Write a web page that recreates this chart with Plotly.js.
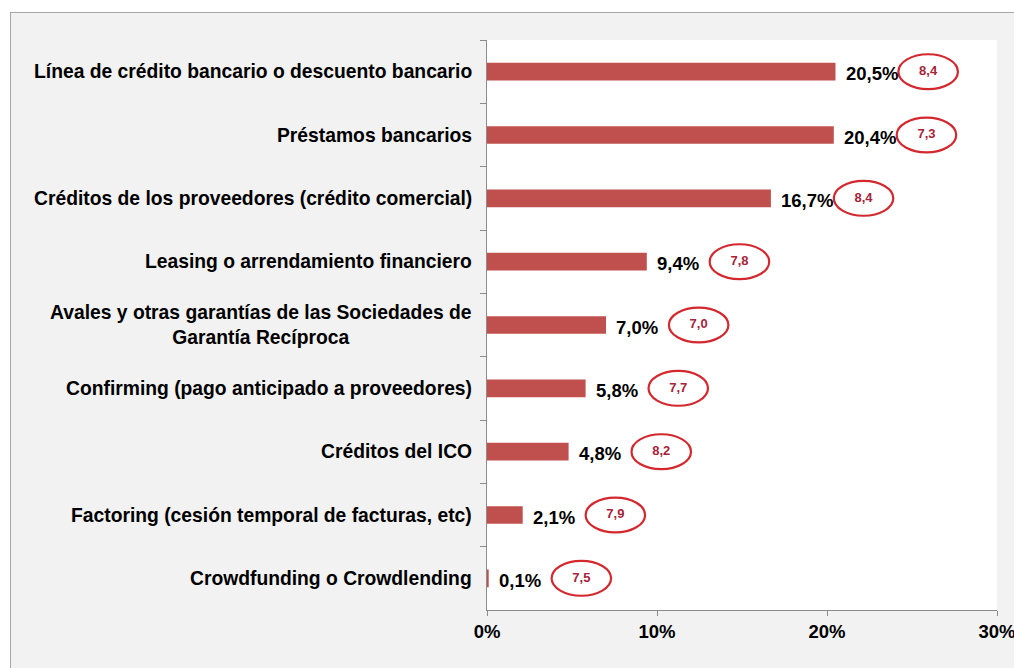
<!DOCTYPE html>
<html>
<head>
<meta charset="utf-8">
<script src="https://cdn.plot.ly/plotly-3.0.1.min.js"></script>
<style>
  html, body { margin: 0; padding: 0; background: #ffffff; overflow: hidden; width: 1014px; height: 668px; }
  #frame { position: absolute; left: 10px; top: 12px; width: 1050px; height: 656px;
           border-left: 1px solid #a6a6a6; border-top: 1px solid #a6a6a6; background: #f2f2f2; }
  #chart { width: 1049px; height: 655px; }
</style>
</head>
<body>
<div id="frame"><div id="chart"></div></div>
<script>
const categories = [
  "Línea de crédito bancario o descuento bancario",
  "Préstamos bancarios",
  "Créditos de los proveedores (crédito comercial)",
  "Leasing o arrendamiento financiero",
  "Avales y otras garantías de las Sociedades de<br>Garantía Recíproca",
  "Confirming (pago anticipado a proveedores)",
  "Créditos del ICO",
  "Factoring (cesión temporal de facturas, etc)",
  "Crowdfunding o Crowdlending"
];
const shares = [20.5, 20.4, 16.7, 9.4, 7.0, 5.8, 4.8, 2.1, 0.1];
const scores = [8.4, 7.3, 8.4, 7.8, 7.0, 7.7, 8.2, 7.9, 7.5];
const xTicks = [0, 10, 20, 30];

const fmt = v => v.toFixed(1).replace('.', ',');
const FONT = '"Liberation Sans", Arial, sans-serif';
const ELLIPSE_OFFSET = 5.45;  // % units to the right of the bar end
const ELLIPSE_W = 3.5;        // % units
const ELLIPSE_H = 0.55;       // category units

const barTrace = {
  type: 'bar', orientation: 'h',
  x: shares, y: categories,
  width: 0.28,
  marker: { color: '#c0504d' },
  hoverinfo: 'none', showlegend: false
};

const scoreTrace = {
  type: 'scatter', mode: 'text',
  x: shares.map(v => v + ELLIPSE_OFFSET), y: categories,
  text: scores.map(fmt),
  textposition: 'middle center',
  textfont: { family: FONT, size: 13, weight: 700, color: '#a6233a' },
  hoverinfo: 'none', showlegend: false, cliponaxis: false
};

const annotations = [];
categories.forEach((c, i) => {
  annotations.push({
    xref: 'paper', yref: 'y', x: 0, y: c, xanchor: 'right', yanchor: 'middle',
    xshift: -13, text: c, align: 'center', showarrow: false,
    font: { family: FONT, size: 19.3, weight: 700, color: '#000000' }
  });
  annotations.push({
    xref: 'x', yref: 'y', x: shares[i], y: c, xanchor: 'left', yanchor: 'middle',
    xshift: 8, yshift: -2, text: fmt(shares[i]) + '%', showarrow: false,
    font: { family: FONT, size: 18.5, weight: 700, color: '#000000' }
  });
});

const shapes = shares.map((v, i) => ({
  type: 'circle', xref: 'x', yref: 'y',
  x0: v + ELLIPSE_OFFSET - ELLIPSE_W / 2, x1: v + ELLIPSE_OFFSET + ELLIPSE_W / 2,
  y0: i - ELLIPSE_H / 2, y1: i + ELLIPSE_H / 2,
  line: { color: '#d2282e', width: 2.2 }, fillcolor: 'rgba(0,0,0,0)', layer: 'above'
}));

const layout = {
  width: 1049, height: 655,
  margin: { l: 476, r: 63, t: 27, b: 58 },
  paper_bgcolor: '#f2f2f2', plot_bgcolor: '#ffffff',
  separators: ',.',
  font: { family: FONT, color: '#000000' },
  xaxis: {
    range: [0, 30], tickvals: xTicks, ticktext: xTicks.map(t => t + '%'),
    showgrid: false, zeroline: false, showline: true, linecolor: '#8c8c8c', linewidth: 1,
    ticks: 'outside', ticklen: 5, tickcolor: '#8c8c8c',
    tickfont: { family: FONT, size: 18.5, weight: 700, color: '#000000' },
    fixedrange: true
  },
  yaxis: {
    type: 'category', categoryorder: 'array', categoryarray: categories,
    autorange: 'reversed', range: [8.5, -0.5],
    showticklabels: false, showgrid: false, zeroline: false,
    showline: true, linecolor: '#8c8c8c', linewidth: 1,
    ticks: 'outside', tickson: 'boundaries', ticklen: 6, tickcolor: '#8c8c8c',
    fixedrange: true
  },
  bargap: 0.72,
  annotations: annotations,
  shapes: shapes
};

Plotly.newPlot('chart', [barTrace, scoreTrace], layout, { displayModeBar: false, staticPlot: true });
</script>
</body>
</html>
